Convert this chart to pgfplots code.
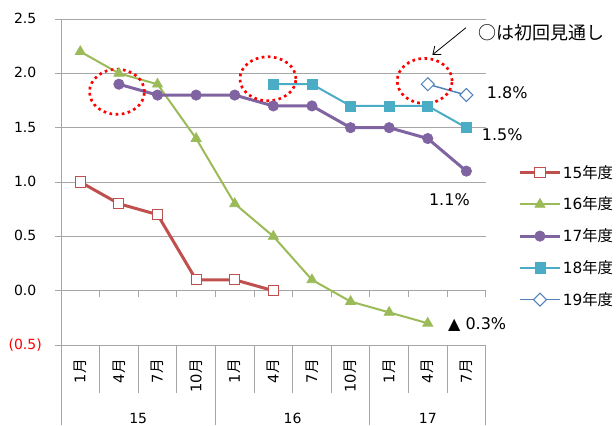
\documentclass[border=0pt]{standalone}
\usepackage{fontspec}
\setmainfont{DejaVu Sans}
\newfontfamily\jp{Noto Sans CJK JP}
\usepackage{pgfplots}
\pgfplotsset{compat=1.18}
\usetikzlibrary{calc,arrows.meta}
\definecolor{c15}{RGB}{192,80,77}
\definecolor{c16}{RGB}{155,187,89}
\definecolor{c17}{RGB}{128,100,162}
\definecolor{c18}{RGB}{75,172,198}
\definecolor{c19}{RGB}{79,129,189}
\definecolor{gridgray}{RGB}{166,166,166}
\newcommand{\M}[1]{#1{\jp 月}}
\newcommand{\fs}{\fontsize{10.5}{12}\selectfont}
\newcommand{\fl}{\fontsize{11.5}{13}\selectfont}
\begin{document}
\begin{tikzpicture}
\begin{axis}[
  scale only axis, width=318.5pt, height=244.5pt,
  xmin=-0.5, xmax=10.5, ymin=-0.5, ymax=2.5,
  clip=false,
  axis line style={draw=none},
  xtick={0,...,10},
  xticklabels={\M{1},\M{4},\M{7},\M{10},\M{1},\M{4},\M{7},\M{10},\M{1},\M{4},\M{7}},
  xtick style={draw=none},
  xticklabel style={rotate=90, anchor=east, inner sep=0pt, font=\fontsize{11}{12}\selectfont},
  xticklabel shift=6pt,
  xtick pos=bottom,
  ytick={-0.5,0,0.5,1,1.5,2,2.5},
  yticklabels={{\textcolor{red}{(0.5)}},0.0\phantom{)},0.5\phantom{)},1.0\phantom{)},1.5\phantom{)},2.0\phantom{)},2.5\phantom{)}},
  ytick pos=left,
  ytick style={line width=0.75pt, color=gridgray},
  tick align=outside, major tick length=4.5pt,
  yticklabel style={anchor=east, inner sep=0pt, xshift=-9.75pt, font=\fs},
  ymajorgrids,
  grid style={line width=0.75pt, color=gridgray},
  legend style={draw=none, fill=none, at={(rel axis cs:1.3035,0.334)}, anchor=east,
    inner sep=0pt, row sep=10.6pt, font=\fl, cells={anchor=west},
    nodes={inner sep=1pt}},
  legend image code/.code={\draw[mark repeat=2,mark phase=2,#1] plot coordinates {(0pt,0pt) (15pt,0pt) (30pt,0pt)};},
]
\coordinate (bl) at (rel axis cs:0,0);
\addplot[c15, line width=2.25pt, mark=square*, mark size=3.8pt, mark options={fill=white, draw=c15, line width=0.75pt, solid}]
  coordinates {(0,1.0) (1,0.8) (2,0.7) (3,0.1) (4,0.1) (5,0.0)};
\addlegendentry{\fl 15{\jp 年度}}
\addplot[c16, line width=1.5pt, mark=triangle*, mark size=4.4pt, mark options={fill=c16, draw=c16, line width=0.5pt, solid}]
  coordinates {(0,2.2) (1,2.0) (2,1.9) (3,1.4) (4,0.8) (5,0.5) (6,0.1) (7,-0.1) (8,-0.2) (9,-0.3)};
\addlegendentry{\fl 16{\jp 年度}}
\addplot[c17, line width=2.25pt, mark=*, mark size=3.9pt, mark options={fill=c17, draw=c17, line width=0.5pt, solid}]
  coordinates {(1,1.9) (2,1.8) (3,1.8) (4,1.8) (5,1.7) (6,1.7) (7,1.5) (8,1.5) (9,1.4) (10,1.1)};
\addlegendentry{\fl 17{\jp 年度}}
\addplot[c18, line width=1.5pt, mark=square*, mark size=3.8pt, mark options={fill=c18, draw=c18, line width=0.5pt, solid}]
  coordinates {(5,1.9) (6,1.9) (7,1.7) (8,1.7) (9,1.7) (10,1.5)};
\addlegendentry{\fl 18{\jp 年度}}
\addplot[c19, line width=1.1pt, mark=square*, mark size=3.45pt, mark options={rotate=45, fill=white, draw=c19, line width=0.75pt, solid}]
  coordinates {(9,1.9) (10,1.8)};
\addlegendentry{\fl 19{\jp 年度}}
% frame below
\draw[gridgray, line width=0.75pt] (axis cs:-0.5,2.5) -- ([yshift=-60pt]axis cs:-0.5,-0.5);
\pgfplotsinvokeforeach{0.5,1.5,2.5,4.5,5.5,6.5,8.5,9.5}{
  \draw[gridgray, line width=0.75pt] (axis cs:#1,-0.5) -- ([yshift=-36pt]axis cs:#1,-0.5);
}
\pgfplotsinvokeforeach{3.5,7.5,10.5}{
  \draw[gridgray, line width=0.75pt] (axis cs:#1,-0.5) -- ([yshift=-60pt]axis cs:#1,-0.5);
}
\pgfplotsinvokeforeach{0.5,1.5,2.5,3.5,4.5,5.5,6.5,7.5,8.5,9.5,10.5}{
  \draw[gridgray, line width=0.75pt] (axis cs:#1,0) -- ([yshift=-4.5pt]axis cs:#1,0);
}
\node[font=\fs] at ([yshift=-54.75pt]axis cs:1.5,-0.5) {15};
\node[font=\fs] at ([yshift=-54.75pt]axis cs:5.5,-0.5) {16};
\node[font=\fs] at ([yshift=-54.75pt]axis cs:9,-0.5) {17};
% annotations
\begin{scope}[red, line width=2pt, dash pattern=on 2pt off 2.6pt]
\draw (axis cs:0.95,1.83) ellipse [x radius=20.6pt, y radius=16.9pt];
\draw (axis cs:4.86,1.95) ellipse [x radius=21pt, y radius=16.5pt];
\draw (axis cs:8.92,1.93) ellipse [x radius=20.6pt, y radius=16.9pt];
\end{scope}
\node[font=\fontsize{12}{14}\selectfont] at (axis cs:11.06,1.82) {1.8\%};
\node[font=\fontsize{12}{14}\selectfont] at (axis cs:10.93,1.44) {1.5\%};
\node[font=\fontsize{12}{14}\selectfont] at (axis cs:9.56,0.84) {1.1\%};
\node[font=\fontsize{12}{14}\selectfont] at (axis cs:10.28,-0.31) {▲ 0.3\%};
\node[font=\fontsize{13.5}{15}\selectfont] at (axis cs:11.94,2.37) {\jp ○は初回見通し};
\draw[black, line width=0.6pt, -{Straight Barb[length=5pt,width=8pt]}] (axis cs:9.99,2.42) -- (axis cs:9.12,2.17);
\end{axis}
\pgfresetboundingbox
\path[use as bounding box] ($(bl)+(-45.75pt,-60pt)$) rectangle ++(462pt,318.75pt);
\end{tikzpicture}
\end{document}
